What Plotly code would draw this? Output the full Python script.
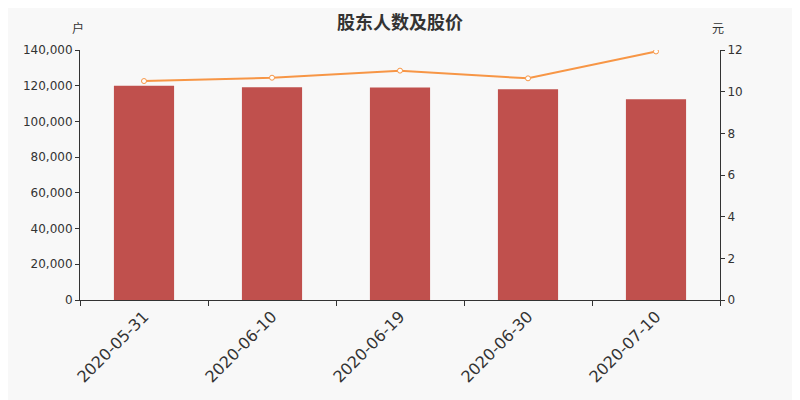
import plotly.graph_objects as go

# data
dates = ["2020-05-31", "2020-06-10", "2020-06-19", "2020-06-30", "2020-07-10"]
holders = [120000, 119200, 119000, 118000, 112400]
price = [10.51, 10.67, 11.01, 10.64, 11.93]

bar_color = "#c0504d"
line_color = "#f79646"
text_color = "#333333"

fig = go.Figure()
fig.add_trace(go.Bar(
    x=dates, y=holders, name="股东人数",
    marker=dict(color=bar_color, line=dict(width=0)),
    width=0.47,
))
fig.add_trace(go.Scatter(
    x=dates, y=price, name="股价", yaxis="y2",
    mode="lines+markers",
    line=dict(color=line_color, width=2),
    marker=dict(size=5, color="white", line=dict(color=line_color, width=1)),
))

# the page body adds an 8px offset, so margins are shifted to land on the reference box
fig.update_layout(
    width=800, height=400,
    paper_bgcolor="#f8f8f8", plot_bgcolor="#f8f8f8",
    margin=dict(l=72, r=88, t=42, b=108),
    showlegend=False,
    font=dict(family="DejaVu Sans", color=text_color, size=12),
    xaxis=dict(
        type="category", tickangle=-45, tickfont=dict(size=16),
        showline=True, linecolor=text_color, linewidth=1,
        ticks="outside", tickson="boundaries", ticklen=5, tickcolor=text_color,
        showgrid=False,
    ),
    yaxis=dict(
        range=[0, 140000], dtick=20000, tickformat=",",
        showline=True, linecolor=text_color, linewidth=1,
        ticks="outside", ticklen=4, tickcolor=text_color,
        showgrid=False, zeroline=False, tickfont=dict(size=12),
    ),
    yaxis2=dict(
        range=[0, 12], dtick=2, overlaying="y", side="right",
        showline=True, linecolor=text_color, linewidth=1,
        ticks="outside", ticklen=4, tickcolor=text_color,
        showgrid=False, zeroline=False, tickfont=dict(size=12),
    ),
    annotations=[
        # title
        dict(text="<b>股东人数及股价</b>", xref="paper", yref="paper",
             x=0.5, y=1.116, xanchor="center", yanchor="middle",
             showarrow=False,
             font=dict(family="Noto Sans CJK SC", size=18, color=text_color)),
        dict(text="户", xref="paper", yref="paper", x=-2 / 640, y=1.088,
             xanchor="center", yanchor="middle", showarrow=False,
             font=dict(family="Noto Sans CJK SC", size=12)),
        dict(text="元", xref="paper", yref="paper", x=1 - 2 / 640, y=1.088,
             xanchor="center", yanchor="middle", showarrow=False,
             font=dict(family="Noto Sans CJK SC", size=12)),
    ],
)

fig.write_html("out.html")
